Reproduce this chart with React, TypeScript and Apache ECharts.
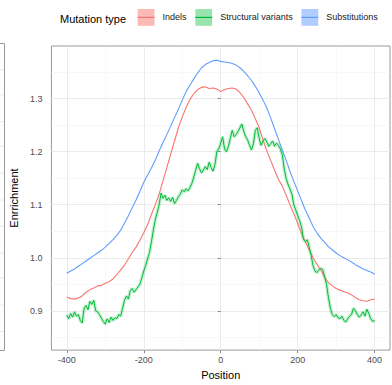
import React, { useEffect, useRef } from "react";
import * as echarts from "echarts";

const positions10 = [
  -400, -390, -380, -370, -360, -350, -340, -330, -320, -310,
  -300, -290, -280, -270, -260, -250, -240, -230, -220, -210,
  -200, -190, -180, -170, -160, -150, -140, -130, -120, -110,
  -100, -90, -80, -70, -60, -50, -40, -30, -20, -10,
  0, 10, 20, 30, 40, 50, 60, 70, 80, 90,
  100, 110, 120, 130, 140, 150, 160, 170, 180, 190,
  200, 210, 220, 230, 240, 250, 260, 270, 280, 290,
  300, 310, 320, 330, 340, 350, 360, 370, 380, 390, 400,
];

const indels = [
  0.926, 0.923, 0.922, 0.924, 0.928, 0.935, 0.94, 0.943, 0.947, 0.948,
  0.952, 0.955, 0.96, 0.968, 0.977, 0.986, 0.998, 1.01, 1.02, 1.033,
  1.047, 1.062, 1.082, 1.1, 1.12, 1.145, 1.17, 1.195, 1.22, 1.245,
  1.265, 1.283, 1.298, 1.309, 1.317, 1.321, 1.322, 1.319, 1.32, 1.318,
  1.313, 1.317, 1.319, 1.32, 1.318, 1.311, 1.302, 1.29, 1.278, 1.262,
  1.245, 1.222, 1.201, 1.183, 1.165, 1.148, 1.135, 1.118, 1.1, 1.083,
  1.065, 1.045, 1.03, 1.015, 1.0, 0.988, 0.977, 0.963, 0.953, 0.947,
  0.942, 0.939, 0.936, 0.934, 0.93, 0.925, 0.921, 0.919, 0.918, 0.921, 0.922,
];

const substitutions = [
  0.971, 0.975, 0.979, 0.984, 0.989, 0.994, 0.999, 1.004, 1.009, 1.014,
  1.02, 1.027, 1.034, 1.042, 1.052, 1.065, 1.079, 1.094, 1.109, 1.125,
  1.142, 1.156, 1.169, 1.184, 1.201, 1.217, 1.232, 1.248, 1.264, 1.28,
  1.297, 1.313, 1.325, 1.337, 1.348, 1.358, 1.364, 1.368, 1.371, 1.372,
  1.37, 1.369, 1.368, 1.366, 1.363, 1.358, 1.351, 1.343, 1.334, 1.323,
  1.311, 1.297, 1.282, 1.263, 1.243, 1.223, 1.203, 1.184, 1.163, 1.144,
  1.126, 1.108, 1.09, 1.075, 1.059, 1.047, 1.037, 1.029, 1.021, 1.015,
  1.009, 1.004, 1.0, 0.996, 0.992, 0.987, 0.983, 0.979, 0.976, 0.973, 0.969,
];

const positions5 = [
  -400, -395, -390, -385, -380, -375, -370, -365, -360, -355,
  -350, -345, -340, -335, -330, -325, -320, -315, -310, -305,
  -300, -295, -290, -285, -280, -275, -270, -265, -260, -255,
  -250, -245, -240, -235, -230, -225, -220, -215, -210, -205,
  -200, -195, -190, -185, -180, -175, -170, -165, -160, -155,
  -150, -145, -140, -135, -130, -125, -120, -115, -110, -105,
  -100, -95, -90, -85, -80, -75, -70, -65, -60, -55,
  -50, -45, -40, -35, -30, -25, -20, -15, -10, -5,
  0, 5, 10, 15, 20, 25, 30, 35, 40, 45,
  50, 55, 60, 65, 70, 75, 80, 85, 90, 95,
  100, 105, 110, 115, 120, 125, 130, 135, 140, 145,
  150, 155, 160, 165, 170, 175, 180, 185, 190, 195,
  200, 205, 210, 215, 220, 225, 230, 235, 240, 245,
  250, 255, 260, 265, 270, 275, 280, 285, 290, 295,
  300, 305, 310, 315, 320, 325, 330, 335, 340, 345,
  350, 355, 360, 365, 370, 375, 380, 385, 390, 395,
  400,
];

const structural = [
  0.892, 0.885, 0.895, 0.888, 0.898, 0.89, 0.893, 0.882, 0.877, 0.905,
  0.91, 0.902, 0.918, 0.912, 0.92, 0.9, 0.898, 0.893, 0.886, 0.88,
  0.875, 0.885, 0.878, 0.888, 0.882, 0.887, 0.885, 0.893, 0.89, 0.905,
  0.92, 0.928, 0.922, 0.938, 0.942, 0.935, 0.94, 0.945, 0.95, 0.962,
  0.975, 0.985, 0.998, 1.01, 1.03, 1.052, 1.072, 1.085, 1.1, 1.122,
  1.112, 1.118, 1.108, 1.113, 1.106, 1.114, 1.102, 1.108, 1.115, 1.12,
  1.128, 1.124, 1.13, 1.126, 1.132, 1.14, 1.152, 1.165, 1.178, 1.168,
  1.16, 1.165, 1.172, 1.166, 1.18, 1.17, 1.163, 1.175, 1.2, 1.205,
  1.216, 1.228, 1.205, 1.2, 1.21, 1.225, 1.24, 1.228, 1.232, 1.238,
  1.245, 1.252, 1.238, 1.228, 1.222, 1.212, 1.203, 1.215, 1.24, 1.245,
  1.225, 1.212, 1.22, 1.225, 1.218, 1.21, 1.215, 1.22, 1.21, 1.216,
  1.212, 1.205, 1.195, 1.168, 1.15, 1.138, 1.13, 1.12, 1.1, 1.09,
  1.08, 1.07, 1.058, 1.035, 1.03, 1.034, 1.02, 1.005, 0.985, 0.975,
  0.972, 0.977, 0.98, 0.978, 0.965, 0.95, 0.925, 0.905, 0.893, 0.889,
  0.893, 0.887, 0.885, 0.89, 0.882, 0.879, 0.885, 0.89, 0.893, 0.905,
  0.9, 0.893, 0.888, 0.892, 0.898, 0.89, 0.903, 0.895, 0.885, 0.88,
  0.882,
];

const seriesNames = ["Indels", "Structural variants", "Substitutions"];
const seriesColors = ["#F8766D", "#00BA38", "#619CFF"];
const keyFills = ["rgba(248,118,109,0.5)", "rgba(0,186,56,0.4)", "rgba(97,156,255,0.5)"];
const yTickValues = [0.9, 1.0, 1.1, 1.2, 1.3];
const xTickValues = [-400, -200, 0, 200, 400];

const FONT = "'Liberation Sans', Arial, Helvetica, sans-serif";

export default function App() {
  const ref = useRef<HTMLDivElement>(null);

  useEffect(() => {
    if (!ref.current) return;
    const chart = echarts.init(ref.current, undefined, { renderer: "svg" });

    const pair = (xs: number[], ys: number[]) => xs.map((x, i) => [x, ys[i]]);
    const redData = pair(positions10, indels);
    const blueData = pair(positions10, substitutions);
    const greenData = pair(positions5, structural);

    const lineBase = {
      type: "line",
      showSymbol: false,
      symbol: "rect",
      silent: true,
    };

    const leftPanelGrid = [70, 95, 121.5, 146.5, 173, 200, 226.5, 253, 278, 305, 331.5];

    const option: any = {
      animation: false,
      textStyle: { fontFamily: FONT },
      title: {
        text: "Mutation type",
        left: 60,
        top: 13,
        padding: 0,
        textStyle: { fontSize: 11, fontWeight: "normal", color: "#000", fontFamily: FONT },
      },
      legend: {
        left: 137,
        top: 9,
        padding: 0,
        itemWidth: 17,
        itemHeight: 21,
        itemGap: 8,
        selectedMode: false,
        textStyle: { fontSize: 9, color: "#1a1a1a", fontFamily: FONT, padding: [0, 0, 0, 3] },
        data: seriesNames.map((n, i) => ({
          name: n,
          itemStyle: { color: keyFills[i], borderWidth: 0 },
          lineStyle: { color: seriesColors[i], width: 1.2 },
        })),
      },
      grid: {
        left: 47,
        right: 2,
        top: 46,
        bottom: 33,
        show: true,
        borderColor: "#9a9a9a",
        borderWidth: 1,
        backgroundColor: "#fff",
      },
      xAxis: {
        type: "value",
        min: -440,
        max: 440,
        minInterval: 200,
        maxInterval: 200,
        name: "Position",
        nameLocation: "middle",
        nameGap: 13,
        nameTextStyle: { fontSize: 11, color: "#000", fontFamily: FONT },
        axisLine: { show: false },
        axisTick: { show: true, length: 3, lineStyle: { color: "#888" }, customValues: xTickValues },
        axisLabel: { fontSize: 9, color: "#4d4d4d", margin: 5, customValues: xTickValues, fontFamily: FONT },
        splitLine: { show: true, lineStyle: { color: "#ebebeb", width: 1 } },
        minorTick: { show: false, splitNumber: 2 },
        minorSplitLine: { show: true, lineStyle: { color: "#f4f4f4", width: 0.6 } },
      },
      yAxis: {
        type: "value",
        min: 0.826,
        max: 1.399,
        minInterval: 0.1,
        maxInterval: 0.1,
        name: "Enrrichment",
        nameLocation: "middle",
        nameGap: 19,
        nameTextStyle: { fontSize: 11, color: "#000", fontFamily: FONT },
        axisLine: { show: false },
        axisTick: { show: true, length: 3, lineStyle: { color: "#888" }, customValues: yTickValues },
        axisLabel: {
          fontSize: 9,
          color: "#4d4d4d",
          margin: 9,
          customValues: yTickValues,
          formatter: (v: number) => v.toFixed(1),
          fontFamily: FONT,
        },
        splitLine: { show: true, lineStyle: { color: "#ebebeb", width: 1 } },
        minorTick: { show: false, splitNumber: 2 },
        minorSplitLine: { show: true, lineStyle: { color: "#f4f4f4", width: 0.6 } },
      },
      series: [
        {
          ...lineBase,
          name: "SV ribbon",
          data: greenData,
          z: 1,
          lineStyle: { color: seriesColors[1], width: 3.6, opacity: 0.22 },
          itemStyle: { color: seriesColors[1] },
        },
        {
          ...lineBase,
          name: seriesNames[0],
          data: redData,
          z: 2,
          lineStyle: { color: seriesColors[0], width: 1.1 },
          itemStyle: { color: seriesColors[0] },
        },
        {
          ...lineBase,
          name: seriesNames[1],
          data: greenData,
          z: 3,
          lineStyle: { color: seriesColors[1], width: 1 },
          itemStyle: { color: seriesColors[1] },
        },
        {
          ...lineBase,
          name: seriesNames[2],
          data: blueData,
          z: 4,
          lineStyle: { color: seriesColors[2], width: 1.1 },
          itemStyle: { color: seriesColors[2] },
        },
      ],
      graphic: [
        ...leftPanelGrid.map((y) => ({
          type: "line",
          shape: { x1: 0, y1: y, x2: 4, y2: y },
          style: { stroke: "#ececec", lineWidth: 1 },
          silent: true,
        })),
        {
          type: "polyline",
          shape: { points: [[0, 43.5], [4.5, 43.5], [4.5, 350.5], [0, 350.5]] },
          style: { stroke: "#9a9a9a", lineWidth: 1, fill: "none" },
          silent: true,
        },
      ],
    };

    chart.setOption(option);
    return () => chart.dispose();
  }, []);

  return (
    <div
      ref={ref}
      style={{ position: "fixed", left: 0, top: 0, width: 392, height: 385, background: "#fff" }}
    />
  );
}
